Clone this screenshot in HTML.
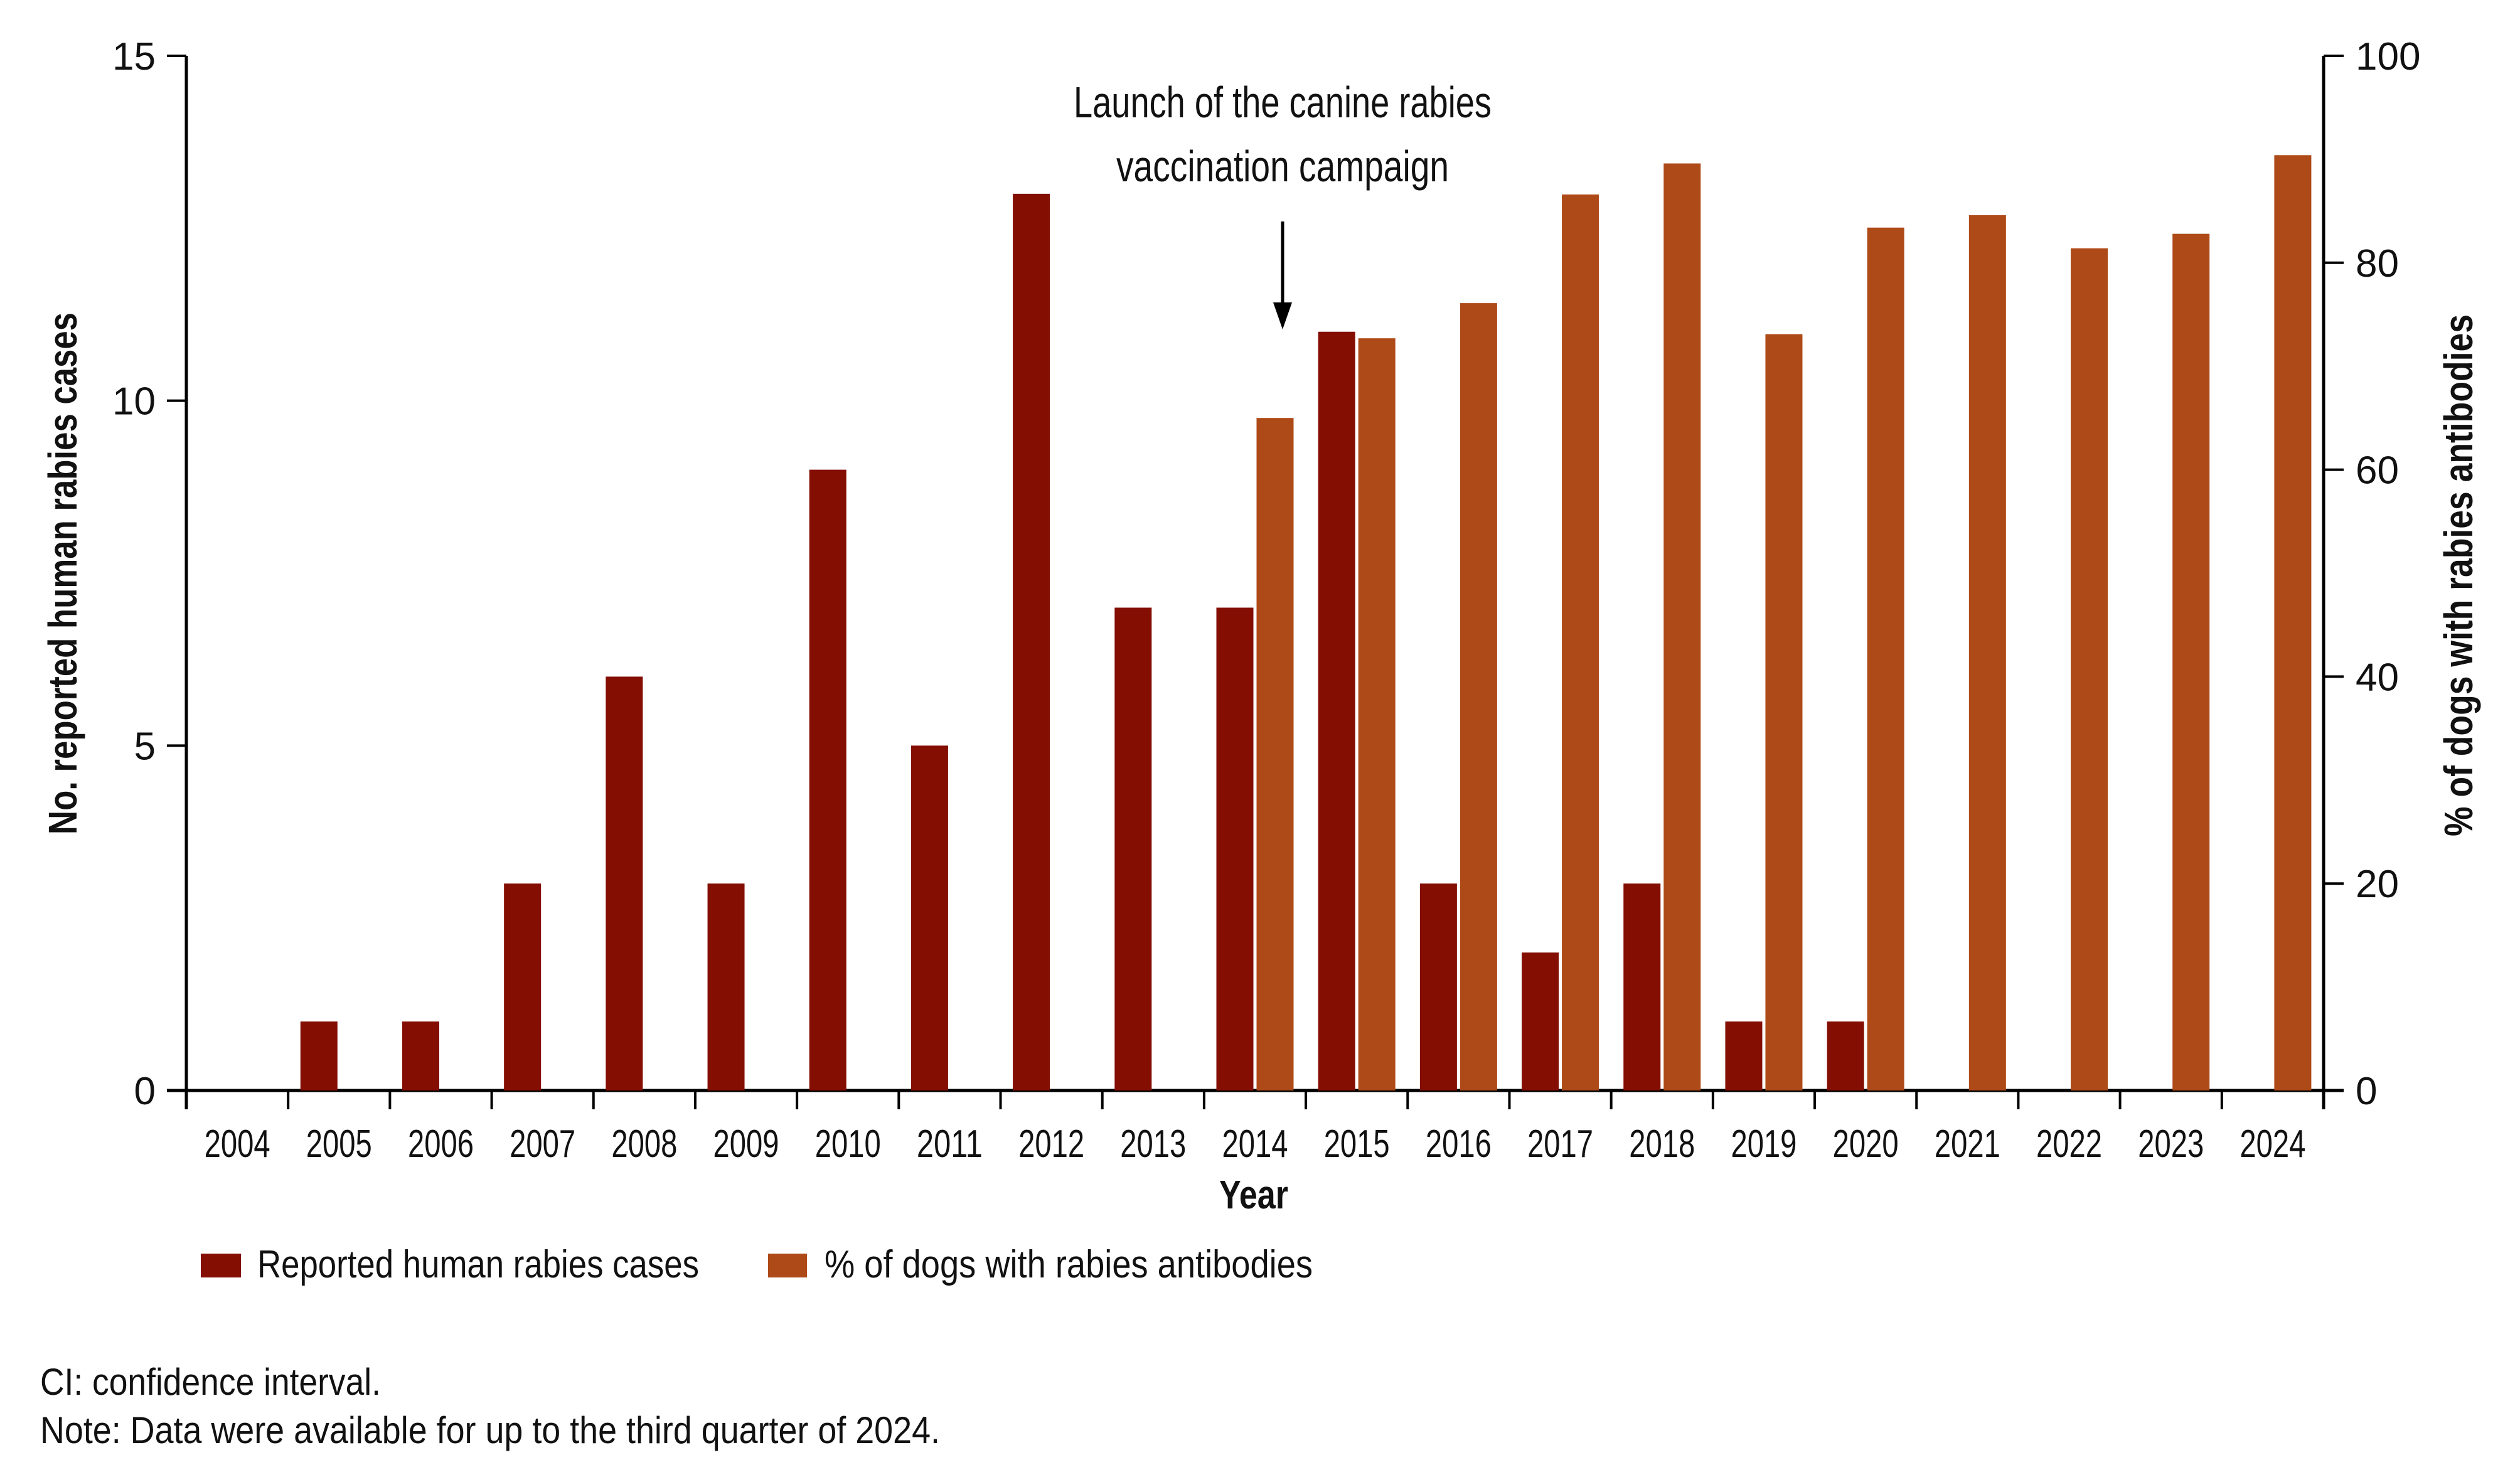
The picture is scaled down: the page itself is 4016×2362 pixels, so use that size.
<!DOCTYPE html>
<html><head><meta charset="utf-8"><style>
html,body{margin:0;padding:0;background:#fff}
svg{display:block}
text{font-family:"Liberation Sans Narrow","Liberation Sans",sans-serif;fill:#111}
</style></head><body>
<svg id="chart" width="4016" height="2362" viewBox="0 0 4016 2362" xmlns="http://www.w3.org/2000/svg">
<g id="axes"></g>
<g id="bars"></g>
<text transform="translate(122,914) rotate(-90)" text-anchor="middle" font-size="64" font-weight="bold" textLength="832" lengthAdjust="spacingAndGlyphs">No. reported human rabies cases</text>
<text transform="translate(3940,917) rotate(-90)" text-anchor="middle" font-size="64" font-weight="bold" textLength="832" lengthAdjust="spacingAndGlyphs">% of dogs with rabies antibodies</text>
<text x="1998" y="1926" text-anchor="middle" font-size="64" font-weight="bold" textLength="110" lengthAdjust="spacingAndGlyphs">Year</text>
<text x="2044" y="187" text-anchor="middle" font-size="70" textLength="666" lengthAdjust="spacingAndGlyphs">Launch of the canine rabies</text>
<text x="2044" y="289" text-anchor="middle" font-size="70" textLength="530" lengthAdjust="spacingAndGlyphs">vaccination campaign</text>
<g>
<line x1="2044" y1="353" x2="2044" y2="490" stroke="#000" stroke-width="5"/>
<polygon points="2029,482 2059,482 2044,525" fill="#000"/>
</g>
<g>
<rect x="320" y="1998" width="64" height="38" fill="#840E02"/>
<text x="410" y="2036" font-size="62" textLength="704" lengthAdjust="spacingAndGlyphs">Reported human rabies cases</text>
<rect x="1224" y="1998" width="62" height="38" fill="#AE4A18"/>
<text x="1314" y="2036" font-size="62" textLength="778" lengthAdjust="spacingAndGlyphs">% of dogs with rabies antibodies</text>
</g>
<text x="64" y="2223" font-size="60" textLength="543" lengthAdjust="spacingAndGlyphs">CI: confidence interval.</text>
<text x="64" y="2300" font-size="60" textLength="1434" lengthAdjust="spacingAndGlyphs">Note: Data were available for up to the third quarter of 2024.</text>
</svg>
<script>
const years = [2004,2005,2006,2007,2008,2009,2010,2011,2012,2013,2014,2015,2016,2017,2018,2019,2020,2021,2022,2023,2024];
const humanCases = [0,1,1,3,6,3,9,5,13,7,7,11,3,2,3,1,1,0,0,0,0];
const dogPercent = [null,null,null,null,null,null,null,null,null,null,65,72.7,76.1,86.6,89.6,73.1,83.4,84.6,81.4,82.8,90.4];
const leftTicks = [0,5,10,15];
const rightTicks = [0,20,40,60,80,100];

const NS='http://www.w3.org/2000/svg';
const X0=297, X1=3703, Y0=1738, YTOP=89;
const band=(X1-X0)/years.length;
const yL=v=>Y0-(v/15)*(Y0-YTOP);
const yR=v=>Y0-(v/100)*(Y0-YTOP);
const xC=i=>X0+band*(i+0.5);
const BW=59, GAP=5;
function mk(tag,attrs,parent){const e=document.createElementNS(NS,tag);for(const k in attrs)e.setAttribute(k,attrs[k]);parent.appendChild(e);return e;}
const axes=document.getElementById('axes'), bars=document.getElementById('bars');

humanCases.forEach((v,i)=>{
  if(!v) return;
  const y=yL(v);
  const r=mk('rect',{x:xC(i)-GAP/2-BW,y:y,width:BW,height:Y0-y,fill:'#840E02'},bars);
  
  
});
dogPercent.forEach((v,i)=>{
  if(v==null) return;
  const y=yR(v);
  const r=mk('rect',{x:xC(i)+GAP/2,y:y,width:BW,height:Y0-y,fill:'#AE4A18'},bars);
  
  
});

const la=mk('line',{x1:X0,y1:YTOP,x2:X0,y2:Y0+30,stroke:'#000','stroke-width':5},axes);


const ra=mk('line',{x1:X1,y1:YTOP,x2:X1,y2:Y0+30,stroke:'#000','stroke-width':5},axes);


const xa=mk('line',{x1:X0-31,y1:Y0,x2:X1+32,y2:Y0,stroke:'#000','stroke-width':5},axes);



leftTicks.forEach(t=>{
  const y=yL(t);
  const l=mk('line',{x1:X0-31,y1:y,x2:X0,y2:y,stroke:'#000','stroke-width':4},axes);
  
  
  const tx=mk('text',{x:248,y:y+22,'text-anchor':'end','font-size':62},axes);
  tx.textContent=t;
  
  
});
rightTicks.forEach(t=>{
  const y=yR(t);
  const l=mk('line',{x1:X1,y1:y,x2:X1+32,y2:y,stroke:'#000','stroke-width':4},axes);
  
  
  const tx=mk('text',{x:3754,y:y+22,'font-size':62},axes);
  tx.textContent=t;
  
  
});
for(let i=0;i<=years.length;i++){
  const x=X0+band*i;
  const l=mk('line',{x1:x,y1:Y0,x2:x,y2:Y0+30,stroke:'#000','stroke-width':4},axes);
  
  
}
years.forEach((yr,i)=>{
  const tx=mk('text',{x:xC(i),y:1844,'text-anchor':'middle','font-size':62,textLength:105,lengthAdjust:'spacingAndGlyphs'},axes);
  tx.textContent=yr;
  
  
});
</script>
</body></html>
